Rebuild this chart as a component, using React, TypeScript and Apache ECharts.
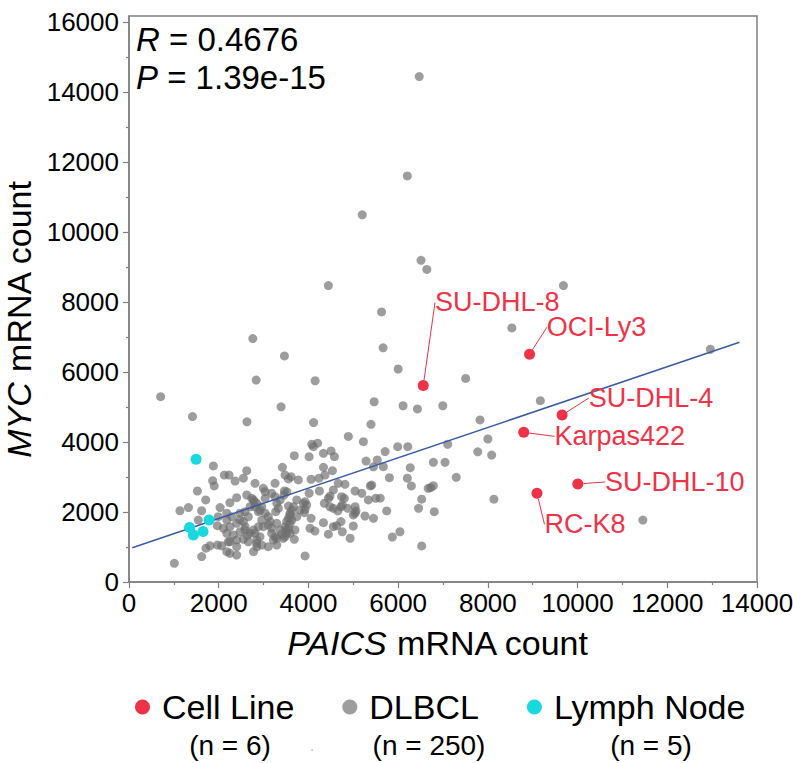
import React, { useEffect, useRef } from "react";
import * as echarts from "echarts";

const FONT = "'Liberation Sans', Arial, Helvetica, sans-serif";

// Category names and counts
const groupNames = ["Cell Line", "DLBCL", "Lymph Node"];
const groupCounts = ["(n = 6)", "(n = 250)", "(n = 5)"];

// Tick values
const xTicks = [0, 2000, 4000, 6000, 8000, 10000, 12000, 14000];
const yTicks = [0, 2000, 4000, 6000, 8000, 10000, 12000, 14000, 16000];

// Statistics
const rText = "0.4676";
const pText = "1.39e-15";

// Cell lines [PAICS, MYC]
const cellLineNames = ["SU-DHL-8", "OCI-Ly3", "SU-DHL-4", "Karpas422", "SU-DHL-10", "RC-K8"];
const cellLineValues: number[][] = [
  [6560, 5615], [8930, 6505], [9655, 4770], [8800, 4275], [10005, 2800], [9095, 2535],
];
// label offsets for cell line names (pixels)
const cellLabelOffsets: number[][] = [
  [74, -83], [67, -27], [89, -17], [96, 4], [97, -2], [48, 31],
];

// Lymph node [PAICS, MYC]
const lymphValues: number[][] = [
  [1495, 3505], [1350, 1560], [1785, 1770], [1435, 1340], [1650, 1445],
];

// Regression line endpoints
const fitLine: number[][] = [[74, 980], [13610, 6848]];

// DLBCL [PAICS, MYC]
const dlbclValues: number[][] = [
  [6470,14440],[6205,11600],[5200,10490],[6510,9190],[6640,8930],[4445,8470],[9685,8470],[5630,7715],[8535,7260],[2760,6955],
  [3465,6460],[5665,6690],[6000,6085],[7505,5815],[2835,5770],[4150,5750],[705,5295],[3390,5005],[1415,4725],[2630,4575],
  [4115,4555],[5465,5150],[5395,4505],[4890,4160],[6110,5035],[6430,4945],[6995,5035],[7825,4630],[9170,5180],[12960,6650],
  [8000,4085],[7105,3935],[7775,3720],[8085,3625],[5225,4010],[5710,3725],[6215,3865],[5990,3865],[5535,3485],[5285,3455],
  [5670,3295],[6270,3265],[6785,3420],[7045,3420],[5805,2980],[6205,2965],[6295,2745],[6670,2675],[6725,2695],[6785,2750],
  [7295,2990],[6525,2365],[6455,2105],[6805,2010],[5745,2030],[8135,2365],[6040,1435],[5870,1285],[6525,1030],[11455,1770],
  [4075,3935],[4205,3965],[4110,3865],[3685,3610],[4015,3580],[4335,3675],[4505,3745],[4580,3580],[3420,3275],[4335,3275],
  [4535,3180],[3480,3055],[3615,3010],[3555,2945],[3775,2915],[3255,2820],[4060,2935],[4235,2965],[4370,3055],[4665,2820],
  [4815,2790],[5380,2745],[5410,2770],[2995,2675],[2810,2820],[3465,2600],[4015,2535],[4245,2600],[4555,2630],[5040,2600],
  [5190,2535],[3255,2435],[3180,2535],[3035,2390],[4480,2455],[4445,2390],[4740,2435],[4800,2390],[5335,2345],[5500,2390],
  [3740,2345],[3925,2295],[3960,2200],[2845,2250],[2960,2150],[2920,2055],[3295,2250],[3330,2105],[3270,2010],[3555,2170],
  [3630,2055],[3590,1915],[3555,1820],[3515,1725],[3890,2240],[3925,2075],[3910,1980],[4355,2250],[4480,2150],[4555,2105],
  [4655,2030],[4725,2150],[4755,2200],[4875,2105],[5040,2150],[5060,2030],[5260,1885],[5450,1820],[5000,1915],[5040,1965],
  [4060,1820],[4035,1535],[4145,1455],[4335,1695],[4555,1580],[4630,1610],[4725,1725],[4755,1435],[5000,1600],[4445,1365],
  [4930,1250],[3925,745],
  [2810,2150],[2885,2010],[3035,1965],[3105,1865],[2960,1770],[3145,1725],[2885,1580],[2995,1580],[2810,1390],[2920,1295],
  [2845,1105],[2960,1055],[3180,1390],[3255,1295],[3220,1200],[3295,1055],[3370,1485],[3405,1370],[3440,1250],[3515,1390],
  [3480,1580],[3555,1535],[3630,1770],[3590,1675],[3685,1220],[3700,1485],[3295,1675],[3105,1630],[3180,1535],
  [1880,3315],[2125,3055],[2230,3055],[2365,2885],[2625,3180],[2550,2965],[1865,2895],[1900,2745],[1525,2600],[1710,2345],
  [1325,2125],[1135,2035],[1620,2035],[2030,2125],[2250,2265],[2400,2410],[2735,2390],[1545,1770],[1970,1610],[1990,1865],
  [2180,1965],[1805,1035],[1715,965],[1970,1055],[1620,725],[1010,535],[2180,865],[2215,1150],[2400,770],[2180,1770],
  [2290,1865],[2475,1965],[2585,2010],[2700,2150],[2790,2295],[2105,1535],[2250,1580],[2400,1675],[2550,1725],[2660,1865],
  [2180,1390],[2325,1345],[2475,1435],[2585,1485],[2700,1390],[2400,1200],[2550,1220],[2660,1150],[2250,1150],[2250,820],
  [2400,1010],[2065,1035],
  [2775,1485],[2640,1330],[2845,1200],[2590,1580],[2470,1780],[3370,2345],[3455,2485],[3520,2575],[3590,1960],[3665,2150],
  [3515,1485],[3480,1295],[3590,1390],[3740,1865],[3815,2055],[3105,1010],[2850,1005],[2775,865],[3295,1250],[2625,2485],
  [2775,2345],[3035,2580],[5450,3290],[5600,2395],
];

const RED = "#EE3349";
const CYAN = "#17D9DE";
const GRAY = "#6f6f6f";
const BLUE = "#3A5AA6";
const AXIS = "#808080";

export default function App() {
  const ref = useRef<HTMLDivElement>(null);

  useEffect(() => {
    document.body.style.margin = "0";
    if (!ref.current) return;
    const chart = echarts.init(ref.current, null, { renderer: "svg" });

    const countCenters = [230, 429, 651];
    const plain = (v: number) => String(v);

    const option: any = {
      animation: false,
      backgroundColor: "#fff",
      textStyle: { fontFamily: FONT },
      grid: {
        left: 129,
        right: 36,
        top: 16,
        bottom: 181,
        show: true,
        borderColor: AXIS,
        borderWidth: 1.5,
        containLabel: false,
        outerBoundsMode: "none",
      },
      legend: {
        data: groupNames,
        left: 130,
        top: 685,
        icon: "circle",
        itemWidth: 15,
        itemHeight: 15,
        itemGap: 48,
        selectedMode: false,
        textStyle: { fontSize: 34, color: "#000", fontFamily: FONT, padding: [0, 0, 0, 7] },
      },
      xAxis: {
        type: "value",
        min: 0,
        max: 14000,
        interval: 2000,
        name: "{i|PAICS} mRNA count",
        nameLocation: "middle",
        nameGap: 44,
        nameTextStyle: {
          fontSize: 34,
          color: "#000",
          fontFamily: FONT,
          padding: [0, 10, 0, 0],
          rich: { i: { fontStyle: "italic", fontSize: 34, color: "#000", fontFamily: FONT } },
        },
        axisLine: { show: true, lineStyle: { color: AXIS, width: 1.5 } },
        axisTick: { show: true, inside: false, length: 6, lineStyle: { color: AXIS, width: 1.2 }, customValues: xTicks },
        minorTick: { show: true, splitNumber: 2, length: 3, lineStyle: { color: AXIS, width: 1.2 } },
        splitLine: { show: false },
        axisLabel: { fontSize: 26, color: "#000", fontFamily: FONT, margin: 8, customValues: xTicks, formatter: plain },
      },
      yAxis: {
        type: "value",
        min: 0,
        max: 16170,
        interval: 2000,
        name: "{i|MYC} mRNA count",
        nameLocation: "middle",
        nameGap: 88,
        nameTextStyle: {
          fontSize: 34,
          color: "#000",
          fontFamily: FONT,
          padding: [0, 40, 0, 0],
          rich: { i: { fontStyle: "italic", fontSize: 34, color: "#000", fontFamily: FONT } },
        },
        axisLine: { show: true, lineStyle: { color: AXIS, width: 1.5 } },
        axisTick: { show: true, inside: false, length: 6, lineStyle: { color: AXIS, width: 1.2 }, customValues: yTicks },
        minorTick: { show: true, splitNumber: 2, length: 3, lineStyle: { color: AXIS, width: 1.2 } },
        splitLine: { show: false },
        axisLabel: { fontSize: 26, color: "#000", fontFamily: FONT, margin: 10, customValues: yTicks, formatter: plain },
      },
      series: [
        {
          name: groupNames[1],
          type: "scatter",
          symbol: "circle",
          symbolSize: 9,
          itemStyle: { color: GRAY, opacity: 0.68 },
          data: dlbclValues,
          z: 2,
        },
        {
          name: "fit",
          type: "line",
          data: fitLine,
          symbol: "none",
          lineStyle: { color: BLUE, width: 1.5 },
          z: 3,
        },
        {
          name: groupNames[2],
          type: "scatter",
          symbol: "circle",
          symbolSize: 11,
          itemStyle: { color: CYAN, opacity: 1 },
          data: lymphValues,
          z: 4,
        },
        {
          name: groupNames[0],
          type: "scatter",
          symbol: "circle",
          symbolSize: 11,
          itemStyle: { color: RED, opacity: 1 },
          data: cellLineValues.map((v, i) => ({ value: v, name: cellLineNames[i] })),
          label: {
            show: true,
            position: "inside",
            formatter: (p: any) => p.name,
            fontSize: 27,
            color: RED,
            fontFamily: FONT,
            align: "center",
            verticalAlign: "middle",
          },
          labelLayout: (p: any) => ({ dx: cellLabelOffsets[p.dataIndex][0], dy: cellLabelOffsets[p.dataIndex][1] }),
          labelLine: { show: true, length2: 0, lineStyle: { color: RED, width: 1 } },
          z: 5,
        },
      ],
      graphic: [
        {
          type: "text",
          left: 136,
          top: 23,
          style: {
            text: "{i|R} = " + rText,
            fontSize: 33,
            fontFamily: FONT,
            fill: "#000",
            rich: { i: { fontStyle: "italic", fontSize: 33, fontFamily: FONT, fill: "#000" } },
          },
        },
        {
          type: "text",
          left: 136,
          top: 61,
          style: {
            text: "{i|P} = " + pText,
            fontSize: 33,
            fontFamily: FONT,
            fill: "#000",
            rich: { i: { fontStyle: "italic", fontSize: 33, fontFamily: FONT, fill: "#000" } },
          },
        },
        ...groupCounts.map((t, i) => ({
          type: "text",
          x: countCenters[i],
          y: 745,
          style: {
            text: t,
            fontSize: 28,
            fontFamily: FONT,
            fill: "#000",
            align: "center",
            verticalAlign: "middle",
          },
        })),
        {
          type: "circle",
          shape: { cx: 312, cy: 750, r: 0.8 },
          style: { fill: "#bbbbbb" },
        },
      ],
    };

    chart.setOption(option);
    return () => chart.dispose();
  }, []);

  return <div ref={ref} style={{ width: 793, height: 763 }} />;
}
